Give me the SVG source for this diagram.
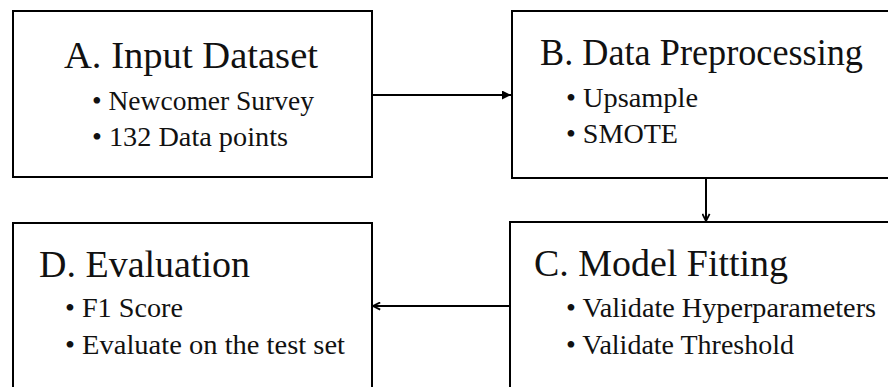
<svg xmlns="http://www.w3.org/2000/svg" width="888" height="387" viewBox="0 0 888 387">
  <style>
    .box { fill: #fff; stroke: #000; stroke-width: 2; }
    .title { font-family: "Liberation Serif", "Times New Roman", serif; font-size: 38px; fill: #111; }
    .item { font-family: "Liberation Serif", "Times New Roman", serif; font-size: 28px; fill: #111; }
    .link { fill: none; stroke: #000; stroke-width: 2; }
  </style>
  <defs>
    <marker id="tri" viewBox="0 0 10 10" refX="10" refY="5" markerWidth="4.5" markerHeight="4.5" orient="auto" markerUnits="strokeWidth">
      <path d="M0,0 L10,5 L0,10 Z" fill="#000"/>
    </marker>
    <marker id="chev" viewBox="0 0 10 10" refX="9" refY="5" markerWidth="4.5" markerHeight="4.5" orient="auto" markerUnits="strokeWidth">
      <path d="M1,1 L9,5 L1,9" fill="none" stroke="#000" stroke-width="2"/>
    </marker>
  </defs>

  <rect width="888" height="387" fill="#fff"/>

  <g id="node-a">
    <rect class="box" x="13" y="11" width="359" height="166"/>
    <text class="title" x="64" y="68" textLength="254" lengthAdjust="spacingAndGlyphs">A. Input Dataset</text>
    <text class="item" x="92" y="110" textLength="222" lengthAdjust="spacingAndGlyphs">• Newcomer Survey</text>
    <text class="item" x="92" y="146" textLength="196" lengthAdjust="spacingAndGlyphs">• 132 Data points</text>
  </g>

  <g id="node-b">
    <rect class="box" x="512" y="11" width="390" height="167"/>
    <text class="title" x="540" y="65" textLength="323" lengthAdjust="spacingAndGlyphs">B. Data Preprocessing</text>
    <text class="item" x="566" y="107" textLength="132" lengthAdjust="spacingAndGlyphs">• Upsample</text>
    <text class="item" x="566" y="143" textLength="112" lengthAdjust="spacingAndGlyphs">• SMOTE</text>
  </g>

  <g id="node-c">
    <rect class="box" x="510" y="222" width="392" height="180"/>
    <text class="title" x="534" y="276" textLength="254" lengthAdjust="spacingAndGlyphs">C. Model Fitting</text>
    <text class="item" x="566" y="317" textLength="310" lengthAdjust="spacingAndGlyphs">• Validate Hyperparameters</text>
    <text class="item" x="566" y="354" textLength="228" lengthAdjust="spacingAndGlyphs">• Validate Threshold</text>
  </g>

  <g id="node-d">
    <rect class="box" x="13" y="223" width="359" height="180"/>
    <text class="title" x="39" y="277" textLength="211" lengthAdjust="spacingAndGlyphs">D. Evaluation</text>
    <text class="item" x="65" y="317" textLength="118" lengthAdjust="spacingAndGlyphs">• F1 Score</text>
    <text class="item" x="65" y="354" textLength="280" lengthAdjust="spacingAndGlyphs">• Evaluate on the test set</text>
  </g>

  <g id="connectors">
    <line class="link" x1="372" y1="95" x2="511" y2="95" marker-end="url(#tri)"/>
    <line class="link" x1="706" y1="178" x2="706" y2="221" marker-end="url(#chev)"/>
    <line class="link" x1="510" y1="306" x2="373" y2="306" marker-end="url(#chev)"/>
  </g>
</svg>
